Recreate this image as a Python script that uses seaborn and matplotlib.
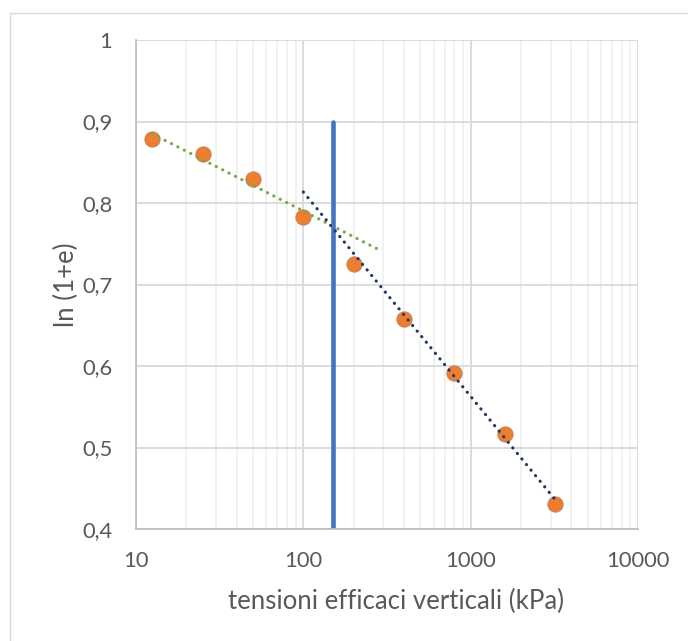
import numpy as np
import pandas as pd
import matplotlib
matplotlib.use("Agg")
import matplotlib.pyplot as plt
from matplotlib.patches import Rectangle
from matplotlib.ticker import FixedLocator, FuncFormatter, NullFormatter, LogLocator
import seaborn as sns

# ---- data ----
stress_kpa = [12.5, 25, 50, 100, 200, 400, 800, 1600, 3200]
ln_1pe = [0.878, 0.860, 0.829, 0.783, 0.725, 0.658, 0.591, 0.517, 0.431]
# trendline groups (indices of points used for each fit) and plotted ranges
green_idx = [0, 1, 2, 3]
green_range = [12.5, 290]
blue_idx = [5, 6, 7, 8]
blue_range = [100, 3200]
vline_x = 150
vline_y = [0.4, 0.9]
x_ticks = [10, 100, 1000, 10000]
y_ticks = [0.4, 0.5, 0.6, 0.7, 0.8, 0.9, 1.0]

sns.set_theme(style="white")
plt.rcParams['font.family'] = ['Lato', 'DejaVu Sans']
TXT = '#595959'

fig = plt.figure(figsize=(6.88, 6.41), dpi=100)
ax = fig.add_axes([136/688, (641-529)/641, (638-136)/688, (529-40)/641])

# figure border
fig.patches.append(Rectangle((10/688, -0.1), 1.2, (641-13)/641 + 0.1,
                             transform=fig.transFigure, fill=False,
                             edgecolor='#d9d9d9', linewidth=1.0, zorder=0))

ax.set_xscale('log')
ax.set_xlim(10, 10000)
ax.set_ylim(0.4, 1.0)

ax.xaxis.set_major_locator(FixedLocator(x_ticks))
ax.xaxis.set_minor_locator(LogLocator(base=10, subs=np.arange(2, 10)))
ax.xaxis.set_major_formatter(FuncFormatter(lambda v, p: f"{int(round(v))}"))
ax.xaxis.set_minor_formatter(NullFormatter())
ax.yaxis.set_major_locator(FixedLocator(y_ticks))
ax.yaxis.set_major_formatter(FuncFormatter(lambda v, p: (f"{v:.1f}".replace('.', ',') if abs(v-1) > 1e-9 else "1")))

ax.grid(which='major', axis='both', color='#d9d9d9', linewidth=1.3)
ax.grid(which='minor', axis='x', color='#efefef', linewidth=1.2)
ax.set_axisbelow(True)

for s in ['top', 'right']:
    ax.spines[s].set_visible(False)
for s in ['left', 'bottom']:
    ax.spines[s].set_color('#bfbfbf')
    ax.spines[s].set_linewidth(1.3)

ax.tick_params(axis='x', which='both', direction='inout', colors='#bfbfbf',
               labelcolor=TXT, labelsize=15.8, width=1.1, pad=12)
ax.tick_params(axis='x', which='major', length=8)
ax.tick_params(axis='x', which='minor', length=7)
ax.tick_params(axis='y', which='both', length=0, labelcolor=TXT, labelsize=15.8, pad=17)

# vertical line
ax.vlines(vline_x, vline_y[0], vline_y[1], color='#4472C4', linewidth=3.3,
          capstyle='round', zorder=2)

# points
df = pd.DataFrame({'x': stress_kpa, 'y': ln_1pe})
sns.scatterplot(data=df, x='x', y='y', ax=ax, s=122, color='#ED7D31',
                edgecolor='#c08060', linewidth=0.6, zorder=3, legend=False)

# trendlines: y = a*log10(x) + b fitted on subsets
def trend(idx, rng, n=200):
    lx = np.log10(np.array(stress_kpa)[idx])
    yy = np.array(ln_1pe)[idx]
    a, b = np.polyfit(lx, yy, 1)
    xs = np.logspace(np.log10(rng[0]), np.log10(rng[1]), n)
    return pd.DataFrame({'x': xs, 'y': a*np.log10(xs) + b})

g = trend(green_idx, green_range)
bl = trend(blue_idx, blue_range)
sns.lineplot(data=g, x='x', y='y', ax=ax, color='#70AD47', linewidth=2.3,
             linestyle=(0, (0.05, 2.2)), dash_capstyle='round', zorder=4)
sns.lineplot(data=bl, x='x', y='y', ax=ax, color='#203864', linewidth=2.3,
             linestyle=(0, (0.05, 2.2)), dash_capstyle='round', zorder=4)

ax.set_xlabel('tensioni efficaci verticali (kPa)', color=TXT, fontsize=18.5)
ax.set_ylabel('ln (1+e)', color=TXT, fontsize=18.5)
ax.xaxis.set_label_coords((396-136)/502, (529-601)/489)
ax.xaxis.label.set_va('center')
ax.yaxis.set_label_coords((66-136)/502, 0.5)
ax.yaxis.label.set_va('center')

fig.savefig('out.png', dpi=100)
